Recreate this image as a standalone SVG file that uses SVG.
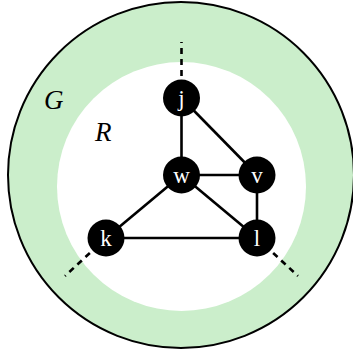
<svg xmlns="http://www.w3.org/2000/svg" width="353" height="353" viewBox="0 0 353 353">
<style>
.edge{stroke:#000;stroke-width:2.6;fill:none}
.dash{stroke:#000;stroke-width:2.6;fill:none;stroke-dasharray:6 5}
.node circle{fill:#000}
.node text{fill:#fff;font-family:"Liberation Serif","DejaVu Serif",serif;font-size:23px;text-anchor:middle}
.lab{font-family:"Liberation Serif",serif;font-style:italic;font-size:27px;fill:#000}
</style>
<circle cx="181" cy="175" r="173" fill="#cbeecb" stroke="#000" stroke-width="2"/>
<circle cx="181.5" cy="186.5" r="124.5" fill="#fff"/>
<text class="lab" x="44" y="109">G</text>
<text class="lab" x="95" y="141">R</text>
<g id="connectors">
<line class="dash" x1="181.5" y1="98" x2="181.5" y2="42"/>
<line class="dash" x1="106" y1="238" x2="65" y2="276"/>
<line class="dash" x1="257" y1="238" x2="298" y2="276"/>
<line class="edge" x1="181.5" y1="98" x2="181.5" y2="175"/>
<line class="edge" x1="181.5" y1="98" x2="257" y2="175"/>
<line class="edge" x1="181.5" y1="175" x2="257" y2="175"/>
<line class="edge" x1="181.5" y1="175" x2="257" y2="238"/>
<line class="edge" x1="181.5" y1="175" x2="106" y2="238"/>
<line class="edge" x1="257" y1="175" x2="257" y2="238"/>
<line class="edge" x1="106" y1="238" x2="257" y2="238"/>
</g>
<g id="j" class="node"><circle cx="181.5" cy="98" r="18.5"/><text x="181.5" y="106">j</text></g>
<g id="w" class="node"><circle cx="181.5" cy="175" r="18.5"/><text x="181.5" y="183">w</text></g>
<g id="v" class="node"><circle cx="257" cy="175" r="18.5"/><text x="257" y="183">v</text></g>
<g id="k" class="node"><circle cx="106" cy="238" r="18.5"/><text x="106" y="246">k</text></g>
<g id="l" class="node"><circle cx="257" cy="238" r="18.5"/><text x="257" y="246">l</text></g>
</svg>
